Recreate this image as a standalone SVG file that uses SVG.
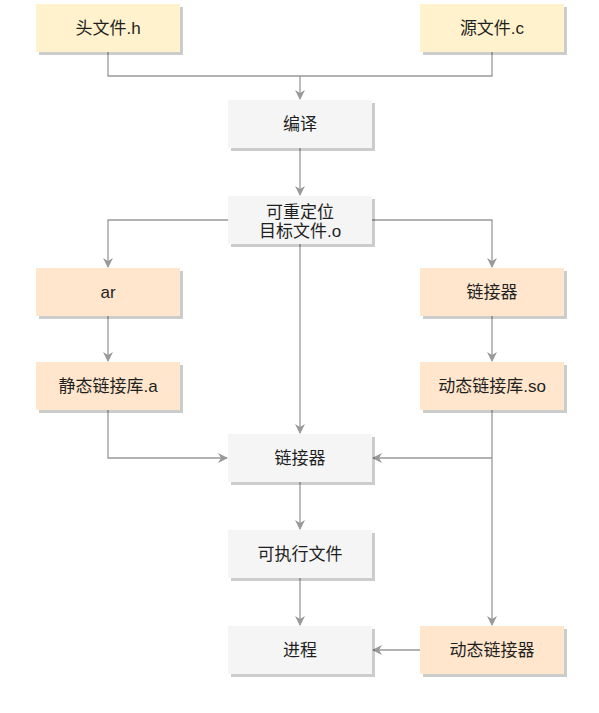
<svg xmlns="http://www.w3.org/2000/svg" width="599" height="713" viewBox="0 0 599 713">
<style>
.sh{fill:#000;opacity:0.2}
.y{fill:#fff2cc}
.o{fill:#ffe6cc}
.g{fill:#f5f5f5}
text{font-family:"Liberation Sans","Noto Sans CJK SC",sans-serif;font-size:17px;fill:#1f1f1f;text-anchor:middle}
.c path{fill:none;stroke:#999;stroke-width:1.3}
</style>
<defs>
<marker id="ah" viewBox="0 0 10 10" refX="9" refY="5" markerWidth="10" markerHeight="10" markerUnits="userSpaceOnUse" orient="auto">
<path d="M0,0 L10,5 L0,10 L3,5 Z" fill="#999"/>
</marker>
</defs>
<rect width="599" height="713" fill="#fff"/>
<g class="c">
<path d="M108,52 V76 H300"/>
<path d="M492,52 V76 H300 V99" marker-end="url(#ah)"/>
<path d="M300,148 V195" marker-end="url(#ah)"/>
<path d="M228,220 H108 V267" marker-end="url(#ah)"/>
<path d="M372,220 H492 V267" marker-end="url(#ah)"/>
<path d="M300,244 V433" marker-end="url(#ah)"/>
<path d="M108,316 V361" marker-end="url(#ah)"/>
<path d="M492,316 V361" marker-end="url(#ah)"/>
<path d="M108,410 V458 H227" marker-end="url(#ah)"/>
<path d="M492,410 V625" marker-end="url(#ah)"/>
<path d="M492,458 H373" marker-end="url(#ah)"/>
<path d="M300,482 V529" marker-end="url(#ah)"/>
<path d="M300,578 V625" marker-end="url(#ah)"/>
<path d="M420,650 H373" marker-end="url(#ah)"/>
</g>
<g id="n1"><rect class="sh" x="39" y="7" width="144" height="48"/><rect class="y" x="36" y="4" width="144" height="48"/><text x="108" y="34">头文件.h</text></g>
<g id="n2"><rect class="sh" x="423" y="7" width="144" height="48"/><rect class="y" x="420" y="4" width="144" height="48"/><text x="492" y="34">源文件.c</text></g>
<g id="n3"><rect class="sh" x="231" y="103" width="144" height="48"/><rect class="g" x="228" y="100" width="144" height="48"/><text x="300" y="130">编译</text></g>
<g id="n4"><rect class="sh" x="231" y="199" width="144" height="48"/><rect class="g" x="228" y="196" width="144" height="48"/><text x="300" y="218">可重定位</text><text x="300" y="237">目标文件.o</text></g>
<g id="n5"><rect class="sh" x="39" y="271" width="144" height="48"/><rect class="o" x="36" y="268" width="144" height="48"/><text x="108" y="298">ar</text></g>
<g id="n6"><rect class="sh" x="423" y="271" width="144" height="48"/><rect class="o" x="420" y="268" width="144" height="48"/><text x="492" y="298">链接器</text></g>
<g id="n7"><rect class="sh" x="39" y="365" width="144" height="48"/><rect class="o" x="36" y="362" width="144" height="48"/><text x="108" y="392">静态链接库.a</text></g>
<g id="n8"><rect class="sh" x="423" y="365" width="144" height="48"/><rect class="o" x="420" y="362" width="144" height="48"/><text x="492" y="392">动态链接库.so</text></g>
<g id="n9"><rect class="sh" x="231" y="437" width="144" height="48"/><rect class="g" x="228" y="434" width="144" height="48"/><text x="300" y="464">链接器</text></g>
<g id="n10"><rect class="sh" x="231" y="533" width="144" height="48"/><rect class="g" x="228" y="530" width="144" height="48"/><text x="300" y="560">可执行文件</text></g>
<g id="n11"><rect class="sh" x="231" y="629" width="144" height="48"/><rect class="g" x="228" y="626" width="144" height="48"/><text x="300" y="656">进程</text></g>
<g id="n12"><rect class="sh" x="423" y="629" width="144" height="48"/><rect class="o" x="420" y="626" width="144" height="48"/><text x="492" y="656">动态链接器</text></g>
</svg>
